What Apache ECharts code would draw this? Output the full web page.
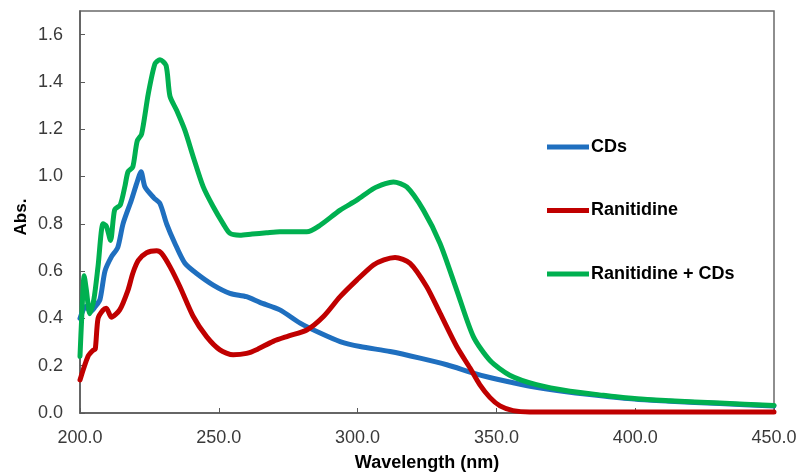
<!DOCTYPE html>
<html>
<head>
<meta charset="utf-8">
<script src="https://cdn.jsdelivr.net/npm/echarts@6/dist/echarts.min.js"></script>
<style>
  html, body { margin: 0; padding: 0; background: #fff; }
  #chart { width: 799px; height: 474px; }
</style>
</head>
<body>
<div id="chart"></div>
<script>
// ***** spectra (wavelength nm / absorbance) *****
var seriesNames = ['CDs', 'Ranitidine', 'Ranitidine + CDs'];
var seriesColors = ['#1f6fbf', '#c00000', '#00b050'];

var cdsWl  = [200, 202, 204, 205.5, 207.2, 209, 211.3, 213.6, 215.5, 218.5, 220.4, 222, 223.4, 226.6, 228.8, 231.2, 234.2, 237.8, 242, 248, 254, 260, 264.8, 272, 279.3, 286.5, 293.7, 300.9, 311.7, 322.5, 332.1, 341.7, 347.6, 354.8, 362.1, 376.5, 388.5, 400.5, 412.5, 430.5, 450];
var cdsAbs = [0.40, 0.45, 0.43, 0.45, 0.48, 0.60, 0.66, 0.70, 0.80, 0.90, 0.97, 1.02, 0.956, 0.91, 0.886, 0.80, 0.717, 0.633, 0.59, 0.541, 0.506, 0.492, 0.468, 0.436, 0.38, 0.338, 0.302, 0.281, 0.26, 0.232, 0.204, 0.169, 0.15, 0.131, 0.113, 0.088, 0.072, 0.058, 0.05, 0.04, 0.03];

var ranWl  = [200, 202.9, 204.7, 205.5, 206.5, 208.3, 209.5, 211.3, 214.3, 217.3, 219, 221, 224, 227.6, 229.4, 232.4, 236, 240.8, 245.6, 250.4, 255.2, 260, 264, 269.6, 275, 281.7, 287.7, 293.7, 299.7, 305.7, 309.5, 313.5, 318.9, 324.9, 329.7, 335.7, 340.5, 344, 347.7, 351.3, 356, 362, 380, 400, 450];
var ranAbs = [0.14, 0.24, 0.265, 0.27, 0.40, 0.435, 0.443, 0.405, 0.436, 0.52, 0.59, 0.645, 0.678, 0.686, 0.675, 0.619, 0.534, 0.408, 0.323, 0.267, 0.246, 0.252, 0.27, 0.303, 0.325, 0.351, 0.408, 0.492, 0.562, 0.626, 0.648, 0.658, 0.633, 0.534, 0.422, 0.281, 0.19, 0.12, 0.065, 0.03, 0.01, 0.004, 0.004, 0.004, 0.004];

var mixWl  = [200, 200.6, 201.5, 202.3, 203.5, 205, 206.5, 208.3, 209.5, 211, 212.5, 214.5, 216.2, 217.3, 219, 220.6, 222.2, 224.6, 227, 228.8, 231, 232.4, 234.8, 237.8, 240.8, 244.4, 248, 251.6, 254, 257.6, 262, 267.2, 272, 281.7, 286.5, 293.7, 299.7, 305.7, 310, 312.9, 317.7, 323.7, 329.7, 335.7, 341.7, 347.7, 354.8, 364.4, 376.5, 388.5, 400.5, 412.5, 430.5, 450];
var mixAbs = [0.24, 0.40, 0.58, 0.52, 0.42, 0.48, 0.62, 0.80, 0.79, 0.73, 0.86, 0.88, 0.96, 1.02, 1.04, 1.15, 1.18, 1.35, 1.477, 1.494, 1.47, 1.34, 1.28, 1.195, 1.083, 0.956, 0.872, 0.80, 0.76, 0.752, 0.757, 0.762, 0.766, 0.766, 0.794, 0.858, 0.90, 0.949, 0.97, 0.977, 0.956, 0.858, 0.717, 0.52, 0.323, 0.222, 0.16, 0.12, 0.092, 0.075, 0.06, 0.052, 0.042, 0.032];

var xTicks = { min: 200, max: 450, step: 50 };
var yTicks = { min: 0, max: 1.7, step: 0.2 };

function pairs(xs, ys) {
  var out = [];
  for (var i = 0; i < xs.length; i++) out.push([xs[i], ys[i]]);
  return out;
}

var allData = [pairs(cdsWl, cdsAbs), pairs(ranWl, ranAbs), pairs(mixWl, mixAbs)];
var font = "'Liberation Sans', Arial, sans-serif";

var chart = echarts.init(document.getElementById('chart'));

var series = [];
for (var i = 0; i < seriesNames.length; i++) {
  series.push({
    name: seriesNames[i],
    type: 'line',
    data: allData[i],
    symbol: 'none',
    smooth: 0.25,
    color: seriesColors[i],
    lineStyle: { width: 5, color: seriesColors[i], cap: 'round', join: 'round' }
  });
}

var option = {
  animation: false,
  backgroundColor: '#fff',
  grid: {
    left: 80, right: 25, top: 11, bottom: 61,
    outerBoundsMode: 'none',
    show: true, borderColor: '#6a6a6a', borderWidth: 1.5
  },
  legend: {
    orient: 'vertical',
    left: 547, top: 138, padding: 0,
    itemWidth: 42, itemHeight: 5, itemGap: 45.5,
    data: seriesNames.map(function (n, k) {
      return { name: n, icon: 'path://M0,0 L42,0 L42,5 L0,5 Z', itemStyle: { color: seriesColors[k] } };
    }),
    textStyle: { fontSize: 18, fontWeight: 'bold', color: '#000', fontFamily: font, padding: [0, 0, 0, -3] }
  },
  xAxis: {
    type: 'value',
    min: xTicks.min, max: xTicks.max, interval: xTicks.step,
    name: 'Wavelength (nm)',
    nameLocation: 'middle', nameGap: 41,
    nameTextStyle: { fontSize: 18, fontWeight: 'bold', color: '#000', fontFamily: font },
    axisLine: { lineStyle: { color: '#595959', width: 1.5 } },
    axisTick: { inside: true, length: 5, lineStyle: { color: '#595959' } },
    axisLabel: {
      fontSize: 18, color: '#3a3a3a', fontFamily: font, margin: 16,
      formatter: function (v) { return v.toFixed(1); }
    },
    splitLine: { show: false }
  },
  yAxis: {
    type: 'value',
    min: yTicks.min, max: yTicks.max, interval: yTicks.step,
    name: 'Abs.',
    nameLocation: 'middle', nameGap: 50,
    nameMoveOverlap: false,
    nameTextStyle: { fontSize: 17, fontWeight: 'bold', color: '#000', fontFamily: font, padding: [0, 0, 0, -10] },
    axisLine: { lineStyle: { color: '#595959', width: 1.5 } },
    axisTick: { inside: true, length: 5, lineStyle: { color: '#595959' } },
    axisLabel: {
      fontSize: 18, color: '#3a3a3a', fontFamily: font, margin: 17,
      showMaxLabel: false,
      formatter: function (v) { return v.toFixed(1); }
    },
    splitLine: { show: false }
  },
  series: series
};

chart.setOption(option);
</script>
</body>
</html>
